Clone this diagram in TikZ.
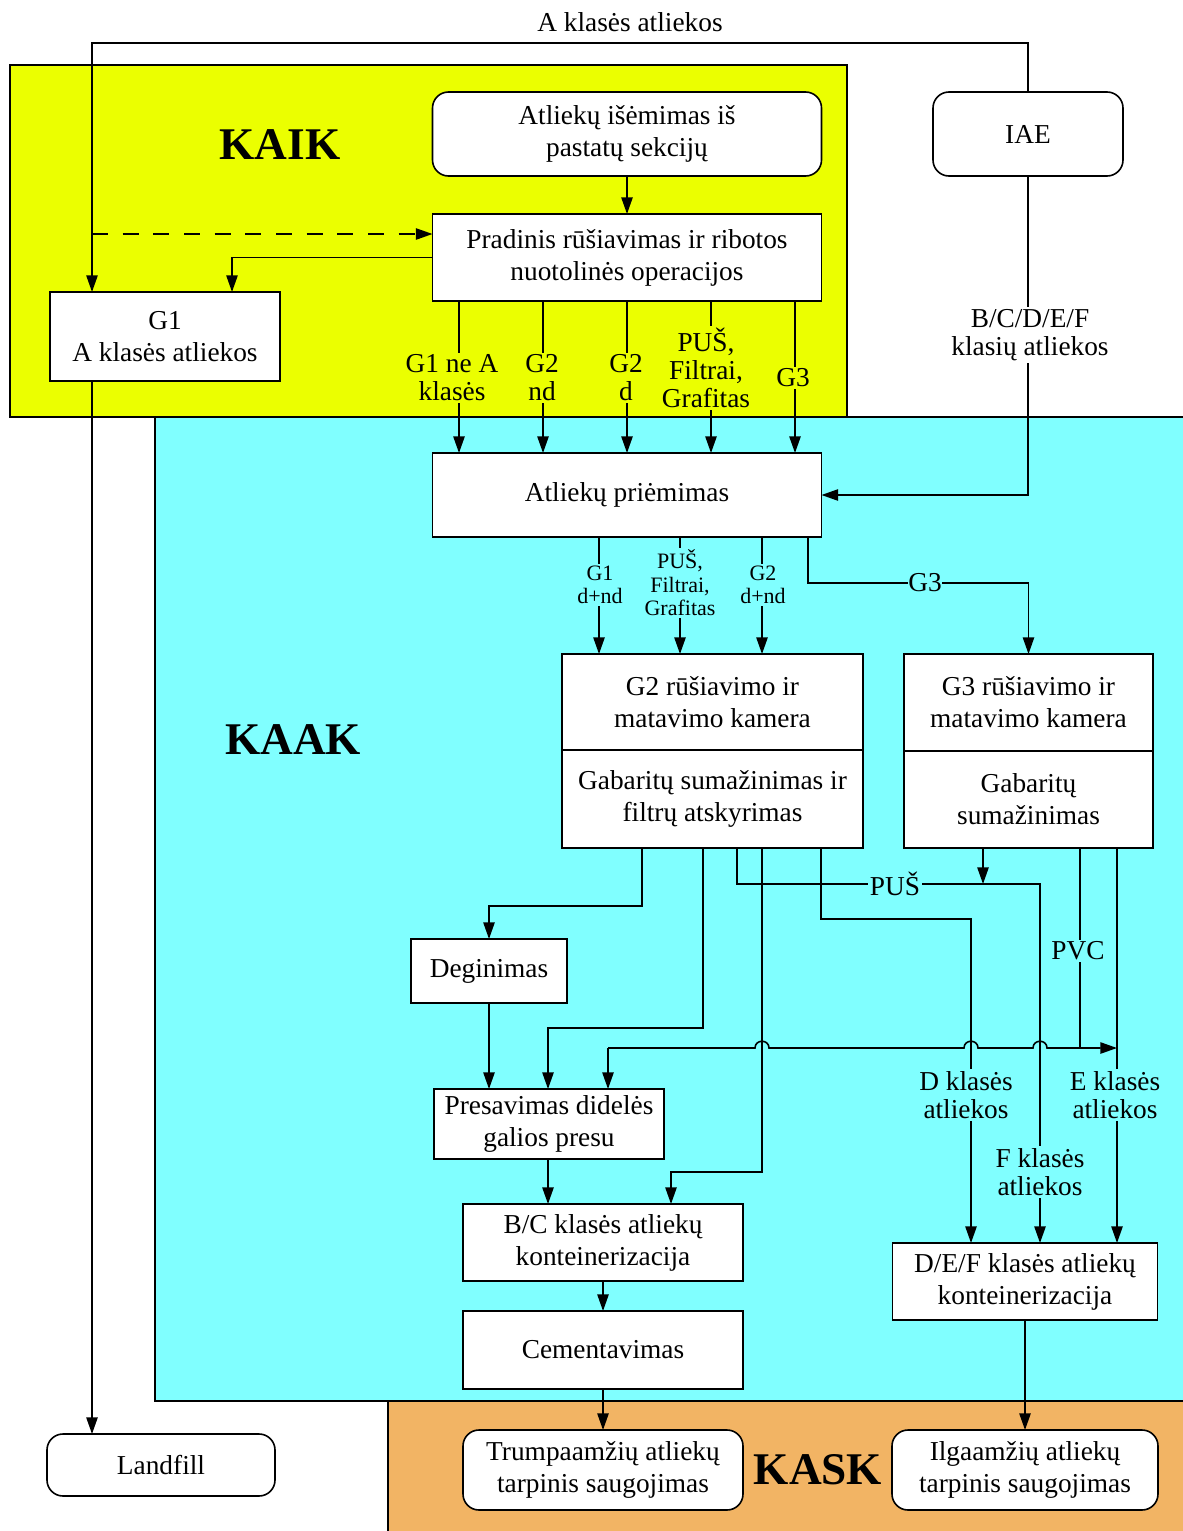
\documentclass[tikz,border=0pt]{standalone}
\usepackage{fontspec}
\setmainfont{Liberation Serif}
\usetikzlibrary{arrows.meta}
\definecolor{kaik}{RGB}{235,255,0}
\definecolor{kaak}{RGB}{128,255,255}
\definecolor{kask}{RGB}{242,180,100}
\tikzset{every picture/.style={line width=1.2pt}}
\tikzset{
  box/.style={draw,fill=white,inner sep=0pt,outer sep=0pt,align=center,font=\fontsize{20.5}{24}\selectfont},
  rbox/.style={box,rounded corners=12pt},
  arr/.style={-{Triangle[length=12.5pt,width=8.5pt]}},
  lbl/.style={fill=#1,inner sep=1.5pt,align=center,font=\fontsize{20.5}{21}\selectfont},
  slbl/.style={lbl=#1,font=\fontsize{16.5}{17.6}\selectfont},
  zone/.style={font=\fontsize{34}{40}\selectfont\bfseries},
}
\begin{document}
\begin{tikzpicture}[x=0.75pt,y=0.75pt,yscale=-1,xscale=1]
\useasboundingbox (0,0) rectangle (1182,1531);

% zones
\draw [fill=kaik,line width=1.6pt] (10,65) rectangle (847,417);
\draw [fill=kaak,line width=1.6pt] (155,417) rectangle (1190,1401);
\draw [fill=kask,line width=1.6pt] (388,1401) rectangle (1190,1540);
\node [zone] (kaikl) at (280,145) {KAIK};
\node [zone] (kaakl) at (293,740) {KAAK};
\node [zone] (kaskl) at (818,1470) {KASK};

% boxes
\node [rbox,minimum width=291.75pt,minimum height=63pt] (isem) at (627,134) {Atliekų išėmimas iš\\pastatų sekcijų};
\node [rbox,minimum width=142.5pt,minimum height=63pt] (iae) at (1028,134) {IAE};
\node [box,minimum width=291.75pt,minimum height=65.25pt] (prad) at (627,257.5) {Pradinis rūšiavimas ir ribotos\\nuotolinės operacijos};
\node [box,minimum width=172.5pt,minimum height=66.75pt] (g1) at (165,336.5) {G1\\A klasės atliekos};
\node [box,minimum width=291.75pt,minimum height=63pt] (prie) at (627,495) {Atliekų priėmimas};
\node [box,minimum width=225.75pt,minimum height=72pt] (g2k) at (712.5,702) {G2 rūšiavimo ir\\matavimo kamera};
\node [box,minimum width=225.75pt,minimum height=73.5pt] (g2g) at (712.5,799) {Gabaritų sumažinimas ir\\filtrų atskyrimas};
\node [box,minimum width=186.75pt,minimum height=72.75pt] (g3k) at (1028.5,702.5) {G3 rūšiavimo ir\\matavimo kamera};
\node [box,minimum width=186.75pt,minimum height=72.75pt] (g3g) at (1028.5,799.5) {Gabaritų\\sumažinimas};
\node [box,minimum width=117pt,minimum height=48pt] (deg) at (489,971) {Deginimas};
\node [box,minimum width=172.5pt,minimum height=52.5pt] (pres) at (549,1124) {Presavimas didelės\\galios presu};
\node [box,minimum width=210pt,minimum height=57.75pt] (bc) at (603,1242.5) {B/C klasės atliekų\\konteinerizacija};
\node [box,minimum width=210pt,minimum height=58.5pt] (cem) at (603,1350) {Cementavimas};
\node [box,minimum width=198.75pt,minimum height=57.75pt] (def) at (1025,1281.5) {D/E/F klasės atliekų\\konteinerizacija};
\node [rbox,minimum width=171pt,minimum height=46.5pt] (land) at (161,1465) {Landfill};
\node [rbox,minimum width=210pt,minimum height=60pt] (trump) at (603,1470) {Trumpaamžių atliekų\\tarpinis saugojimas};
\node [rbox,minimum width=199.5pt,minimum height=60pt] (ilga) at (1025,1470) {Ilgaamžių atliekų\\tarpinis saugojimas};

% KAIK connectors
\draw [arr] (iae.north) -- (1028,43) -- (92,43) -- (92,43 |- g1.north);
\node [lbl=white] (lbla) at (630,22) {A klasės atliekos};
\draw [arr] (isem) -- (prad);
\draw [arr,dash pattern=on 12pt off 11pt] (92,234) -- (92,234 -| prad.west);
\draw [arr] (prad.west) -| (232,0 |- g1.north);
\draw [arr] (92,0 |- g1.south) -- (92,0 |- land.north);
\foreach \x in {459,543,627,711,795}
  \draw [arr] (\x,0 |- prad.south) -- (\x,0 |- prie.north);
\node [lbl=kaik] (lg1) at (452,378) {G1 ne A\\klasės};
\node [lbl=kaik] (lg2nd) at (542,378) {G2\\nd};
\node [lbl=kaik] (lg2d) at (626,378) {G2\\d};
\node [lbl=kaik] (lpus) at (706,368) {PUŠ,\\Filtrai,\\Grafitas};
\node [lbl=kaik] (lg3) at (793,378) {G3};
\draw [arr] (iae.south) |- (prie.east);
\node [lbl=white] (lbcdef) at (1030,335) {B/C/D/E/F\\klasių atliekos};

% KAAK connectors
\foreach \x in {599,680,762}
  \draw [arr] (\x,0 |- prie.south) -- (\x,0 |- g2k.north);
\node [slbl=kaak] (sg1) at (600,585) {G1\\d+nd};
\node [slbl=kaak] (spus) at (680,583) {PUŠ,\\Filtrai,\\Grafitas};
\node [slbl=kaak] (sg2) at (763,585) {G2\\d+nd};
\draw [arr] (808,0 |- prie.south) -- (808,583) -| (g3k.north);
\node [lbl=kaak,inner sep=0.5pt] (sg3) at (925,583) {G3};

\draw [arr] (642,0 |- g2g.south) -- (642,906) -| (deg.north);
\draw [arr] (703,0 |- g2g.south) -- (703,1028) -| (548,0 |- pres.north);
\draw [arr] (737,0 |- g2g.south) -- (737,884) -- (1040,884) -- (1040,0 |- def.north);
\draw [arr] (762,0 |- g2g.south) -- (762,1172) -| (671,0 |- bc.north);
\draw [arr] (821,0 |- g2g.south) -- (821,919) -| (971,0 |- def.north);
\draw [arr] (983,0 |- g3g.south) -- (983,884);
\draw (1080,0 |- g3g.south) -- (1080,1048);
\draw [arr] (1117,0 |- g3g.south) -- (1117,0 |- def.north);
% line with jumps
\draw [arr] (608,1048) -- (755,1048) .. controls (755,1039) and (769,1039) .. (769,1048)
  -- (964,1048) .. controls (964,1039) and (978,1039) .. (978,1048)
  -- (1033,1048) .. controls (1033,1039) and (1047,1039) .. (1047,1048) -- (1117,1048);
\draw [arr] (608,1048) -- (608,0 |- pres.north);
\node [lbl=kaak] (lpus2) at (895,884) {PUŠ};
\node [lbl=kaak] (lpvc) at (1078,951) {PVC};
\node [lbl=kaak] (ld) at (966,1095) {D klasės\\atliekos};
\node [lbl=kaak] (le) at (1115,1095) {E klasės\\atliekos};
\node [lbl=kaak] (lf) at (1040,1172) {F klasės\\atliekos};

\draw [arr] (deg.south) -- (deg.south |- pres.north);
\draw [arr] (548,0 |- pres.south) -- (548,0 |- bc.north);
\draw [arr] (bc) -- (cem);
\draw [arr] (cem) -- (trump);
\draw [arr] (def) -- (ilga);

\end{tikzpicture}
\end{document}
